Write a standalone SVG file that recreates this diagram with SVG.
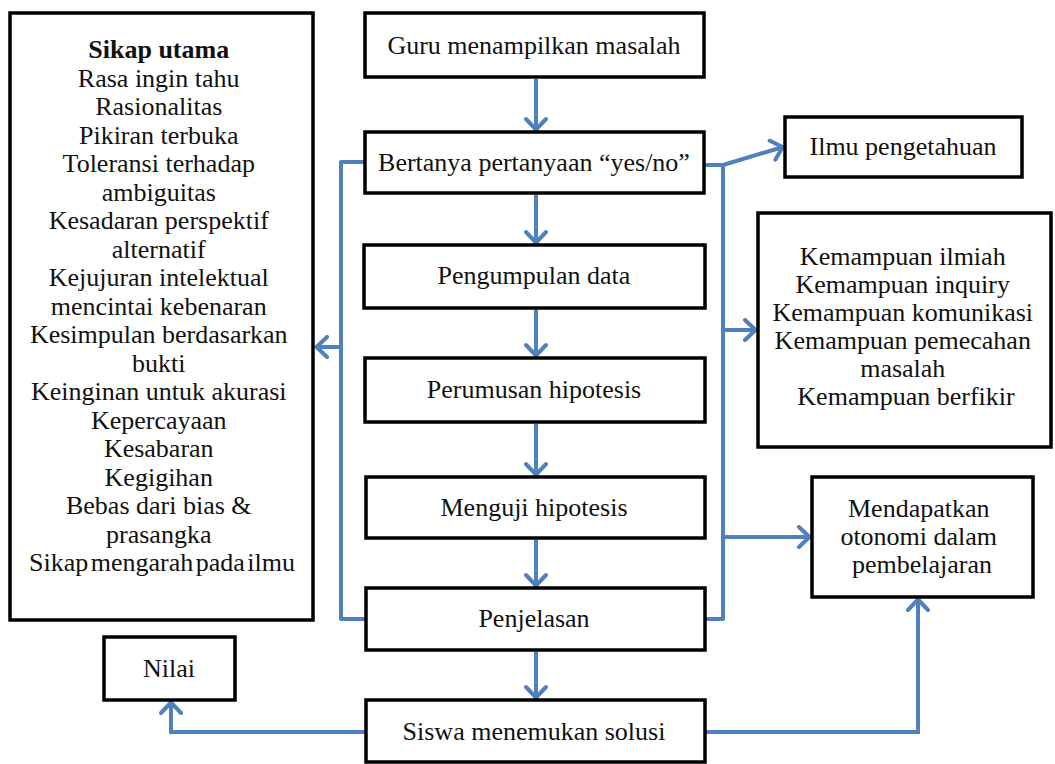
<svg xmlns="http://www.w3.org/2000/svg" width="1055" height="764" viewBox="0 0 1055 764">
  <style>
    .box { fill: #ffffff; stroke: #000000; stroke-width: 3.5; }
    .lbl { font-family: 'Liberation Serif', 'DejaVu Serif', serif; font-size: 26px; fill: #111111; text-anchor: middle; }
    .bold { font-weight: bold; }
    .tight { word-spacing: -4px; }
    .wire { fill: none; stroke: #4F81BD; stroke-width: 4; stroke-linejoin: round; }
    .arr { fill: none; stroke: #4F81BD; stroke-width: 4; marker-end: url(#chev); }
  </style>
  <defs>
    <!-- open chevron arrowhead shared by all flow arrows -->
    <marker id="chev" markerUnits="userSpaceOnUse" viewBox="0 0 16 24" markerWidth="16" markerHeight="24" refX="14" refY="12" orient="auto">
      <path d="M3,2 L13.5,12 L3,22" fill="none" stroke="#4F81BD" stroke-width="4" stroke-linecap="round" stroke-linejoin="round"/>
    </marker>
  </defs>
  <rect width="1055" height="764" fill="#ffffff"/>

  <!-- connectors -->
  <g id="connectors">
    <path class="arr" d="M536,79 L536,130"/>
    <path class="arr" d="M536,195 L536,243"/>
    <path class="arr" d="M536,310 L536,356"/>
    <path class="arr" d="M536,424 L536,475"/>
    <path class="arr" d="M536,540 L536,586"/>
    <path class="arr" d="M536,652 L536,698"/>
    <!-- left feedback bracket -->
    <path class="wire" d="M365,162 L341,162 L341,619 L365,619"/>
    <path class="arr" d="M341,347 L316,347"/>
    <!-- right outcome bracket -->
    <path class="wire" d="M704,165 L723,165 L723,619 L704,619"/>
    <path class="arr" d="M723,165 L783,147"/>
    <path class="arr" d="M723,330 L756,330"/>
    <path class="arr" d="M723,537 L810,537"/>
    <!-- bottom branches -->
    <path class="arr" d="M365,732 L171,732 L171,702"/>
    <path class="arr" d="M704,732 L918,732 L918,599"/>
  </g>

  <g id="sikap">
    <rect class="box" x="10" y="13" width="303" height="607"/>
    <text class="lbl" x="162" y="58">
      <tspan class="bold" x="162">Sikap utama</tspan>
      <tspan x="162" dy="28.5">Rasa ingin tahu</tspan>
      <tspan x="162" dy="28.5">Rasionalitas</tspan>
      <tspan x="162" dy="28.5">Pikiran terbuka</tspan>
      <tspan x="162" dy="28.5">Toleransi terhadap</tspan>
      <tspan x="162" dy="28.5">ambiguitas</tspan>
      <tspan x="162" dy="28.5">Kesadaran perspektif</tspan>
      <tspan x="162" dy="28.5">alternatif</tspan>
      <tspan x="162" dy="28.5">Kejujuran intelektual</tspan>
      <tspan x="162" dy="28.5">mencintai kebenaran</tspan>
      <tspan x="162" dy="28.5">Kesimpulan berdasarkan</tspan>
      <tspan x="162" dy="28.5">bukti</tspan>
      <tspan x="162" dy="28.5">Keinginan untuk akurasi</tspan>
      <tspan x="162" dy="28.5">Kepercayaan</tspan>
      <tspan x="162" dy="28.5">Kesabaran</tspan>
      <tspan x="162" dy="28.5">Kegigihan</tspan>
      <tspan x="162" dy="28.5">Bebas dari bias &amp;</tspan>
      <tspan x="162" dy="28.5">prasangka</tspan>
      <tspan class="tight" x="162" dy="28.5">Sikap mengarah pada ilmu</tspan>
    </text>
  </g>

  <g id="guru">
    <rect class="box" x="365" y="13" width="339" height="64"/>
    <text class="lbl" x="534" y="54">Guru menampilkan masalah</text>
  </g>
  <g id="bertanya">
    <rect class="box" x="365" y="132" width="339" height="61"/>
    <text class="lbl" x="534" y="171">Bertanya pertanyaan “yes/no”</text>
  </g>
  <g id="pengumpulan">
    <rect class="box" x="364" y="245" width="341" height="63"/>
    <text class="lbl" x="534" y="284">Pengumpulan data</text>
  </g>
  <g id="perumusan">
    <rect class="box" x="365" y="358" width="340" height="64"/>
    <text class="lbl" x="534" y="398">Perumusan hipotesis</text>
  </g>
  <g id="menguji">
    <rect class="box" x="366" y="477" width="339" height="61"/>
    <text class="lbl" x="534" y="516">Menguji hipotesis</text>
  </g>
  <g id="penjelasan">
    <rect class="box" x="366" y="588" width="339" height="62"/>
    <text class="lbl" x="534" y="627">Penjelasan</text>
  </g>
  <g id="siswa">
    <rect class="box" x="366" y="700" width="339" height="62"/>
    <text class="lbl" x="534" y="740">Siswa menemukan solusi</text>
  </g>

  <g id="ilmu">
    <rect class="box" x="785" y="117" width="237" height="60"/>
    <text class="lbl" x="903" y="155">Ilmu pengetahuan</text>
  </g>
  <g id="kemampuan">
    <rect class="box" x="758" y="213" width="293" height="234"/>
    <text class="lbl" x="906" y="265">
      <tspan x="906">Kemampuan ilmiah</tspan>
      <tspan x="906" dy="28">Kemampuan inquiry</tspan>
      <tspan x="906" dy="28">Kemampuan komunikasi</tspan>
      <tspan x="906" dy="28">Kemampuan pemecahan</tspan>
      <tspan x="906" dy="28">masalah</tspan>
      <tspan x="906" dy="28">Kemampuan berfikir</tspan>
    </text>
  </g>
  <g id="otonomi">
    <rect class="box" x="812" y="477" width="221" height="120"/>
    <text class="lbl" x="922" y="517">
      <tspan x="922">Mendapatkan</tspan>
      <tspan x="922" dy="28">otonomi dalam</tspan>
      <tspan x="922" dy="28">pembelajaran</tspan>
    </text>
  </g>
  <g id="nilai">
    <rect class="box" x="104" y="637" width="131" height="63"/>
    <text class="lbl" x="169" y="677">Nilai</text>
  </g>
</svg>
